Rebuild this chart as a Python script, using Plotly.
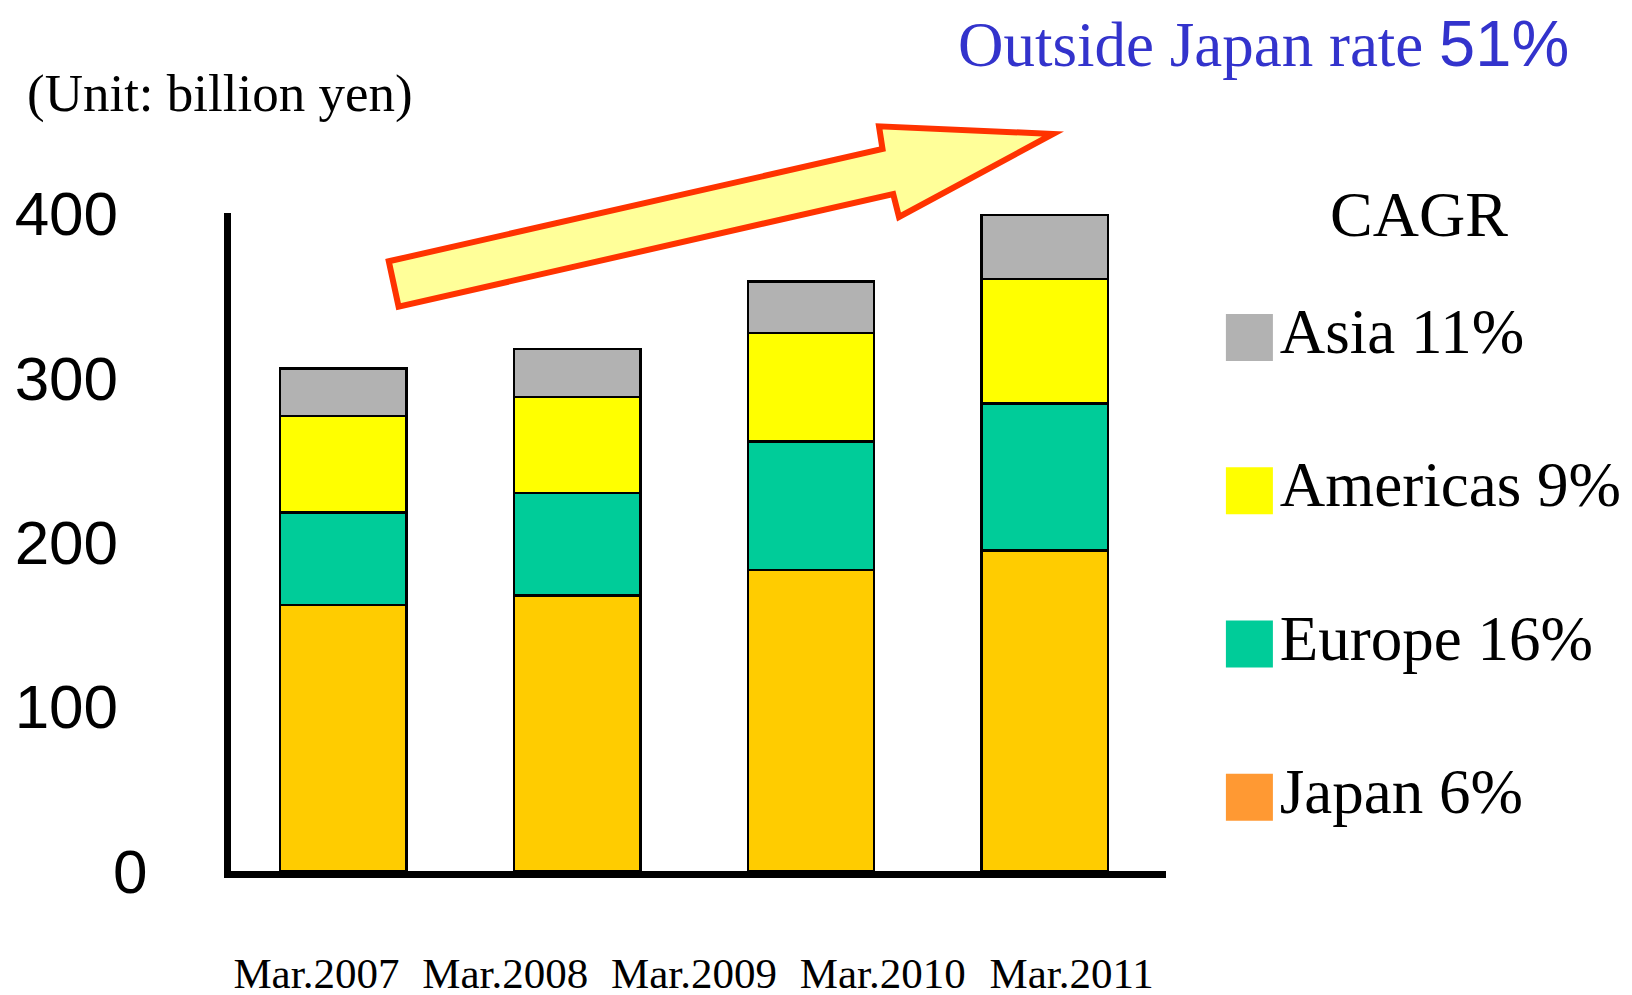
import plotly.graph_objects as go

# data (billion yen)
bar_years = ["Mar.2008", "Mar.2009", "Mar.2010", "Mar.2011"]
x_labels = ["Mar.2007", "Mar.2008", "Mar.2009", "Mar.2010", "Mar.2011"]
japan = [161.8, 167.5, 183.1, 194.9]
europe = [56.4, 62.3, 78.1, 89.6]
americas = [58.6, 58.5, 66.1, 75.6]
asia = [29.0, 29.2, 31.4, 38.9]
y_ticks = [100, 200, 300, 400]

regions = ["Japan", "Europe", "Americas", "Asia"]
cagr = ["6%", "16%", "9%", "11%"]
legend_colors = ["#FF9933", "#00CC99", "#FFFF00", "#B2B2B2"]

W, H = 1632, 995
OFF = 8  # default page margin around the plot div
SERIF = "Times New Roman, Liberation Serif, serif"
SANS = "Arial, Liberation Sans, sans-serif"
BLUE = "#3333CC"


def px(x, y):
    # screen pixel -> paper coordinates (margins are zero)
    return (x - OFF) / W, 1 - (y - OFF) / H


fig = go.Figure()

series = [("Japan", japan, "#FFCC00"), ("Europe", europe, "#00CC99"),
          ("Americas", americas, "#FFFF00"), ("Asia", asia, "#B2B2B2")]
for name, vals, col in series:
    fig.add_trace(go.Bar(x=bar_years, y=vals, name=name, width=0.54,
                         marker=dict(color=col, line=dict(color="black", width=2.5)),
                         showlegend=False))

# legend drawn as big square markers with text
fig.add_trace(go.Scatter(
    x=[0] * len(regions), y=regions, mode="markers+text",
    text=[f"{r} {c}" for r, c in zip(regions, cagr)],
    textposition="middle right",
    textfont=dict(family=SERIF, size=63, color="black"),
    marker=dict(symbol="square", size=47, color=legend_colors, line=dict(width=0)),
    xaxis="x3", yaxis="y3", showlegend=False, cliponaxis=False))

# invisible trace so xaxis2 / yaxis2 get drawn
fig.add_trace(go.Scatter(x=[0], y=[0], xaxis="x2", yaxis="y2", mode="markers",
                         marker=dict(opacity=0), showlegend=False, hoverinfo="skip"))

x0, x1 = 230.5, 1166
y_top, y_bot = 213, 871
per100 = 164.4
y_max = (y_bot - y_top) / per100 * 100

xa, _ = px(x0, 0)
xb, _ = px(x1, 0)
_, ya = px(0, y_bot)
_, yb = px(0, y_top)
lxa, _ = px(1199.4, 0)
lxb, _ = px(1299.4, 0)
_, lya = px(0, 874)
_, lyb = px(0, 260.8)

fig.update_layout(
    width=W, height=H,
    margin=dict(l=0, r=0, t=0, b=0),
    paper_bgcolor="white", plot_bgcolor="white",
    barmode="stack",
    showlegend=False,
    xaxis=dict(domain=[xa, xb], range=[-0.482, 3.518], automargin=False,
               showline=True, linecolor="black", linewidth=7,
               showticklabels=False, showgrid=False, zeroline=False, ticks=""),
    xaxis2=dict(overlaying="x", anchor="y", side="bottom", automargin=False,
                range=[-0.455, 4.5], tickvals=list(range(len(x_labels))),
                ticktext=x_labels, showline=False, showgrid=False, zeroline=False,
                ticks="", ticklabelstandoff=73,
                tickfont=dict(family=SERIF, size=43, color="black")),
    yaxis=dict(domain=[ya, yb], range=[0, y_max], automargin=False,
               tickvals=y_ticks, showline=True, linecolor="black", linewidth=7,
               showgrid=False, zeroline=False, ticks="", ticklabelstandoff=93,
               tickfont=dict(family=SANS, size=62, color="black")),
    yaxis2=dict(overlaying="y", anchor="x", side="left", range=[0, y_max],
                automargin=False,
                tickvals=[0], showline=False, showgrid=False, zeroline=False,
                ticks="", ticklabelstandoff=82,
                tickfont=dict(family=SANS, size=62, color="black")),
    xaxis3=dict(domain=[lxa, lxb], range=[-1, 1], anchor="y3",
                visible=False, fixedrange=True, automargin=False),
    yaxis3=dict(domain=[lya, lyb], range=[-0.5, 3.5],
                anchor="x3", visible=False, type="category", automargin=False,
                categoryorder="array", categoryarray=regions, fixedrange=True),
)

# growth arrow
arrow_px = [(388.8, 261.3), (882.5, 149), (879, 126.3), (1053, 134),
            (899, 217), (893.2, 194), (398.6, 306.7)]
pts = [px(x, y) for x, y in arrow_px]
path = "M " + " L ".join(f"{a:.5f},{b:.5f}" for a, b in pts) + " Z"
fig.add_shape(type="path", path=path, xref="paper", yref="paper",
              fillcolor="#FFFF99", line=dict(color="#FF3300", width=6), layer="above")

ann = [
    dict(text=f"Outside Japan rate <span style='font-family:{SANS};font-size:65px'>51%</span>",
         pos=(956, 43), size=63, color=BLUE, family=SERIF),
    dict(text="(Unit: billion yen)", pos=(25, 93), size=53, color="black", family=SERIF),
    dict(text="CAGR", pos=(1328, 214), size=64, color="black", family=SERIF),
]
for a in ann:
    ax, ay = px(*a["pos"])
    fig.add_annotation(text=a["text"], x=ax, y=ay, xref="paper", yref="paper",
                       xanchor="left", yanchor="middle", showarrow=False,
                       font=dict(family=a["family"], size=a["size"], color=a["color"]))

fig.write_html("out.html")
